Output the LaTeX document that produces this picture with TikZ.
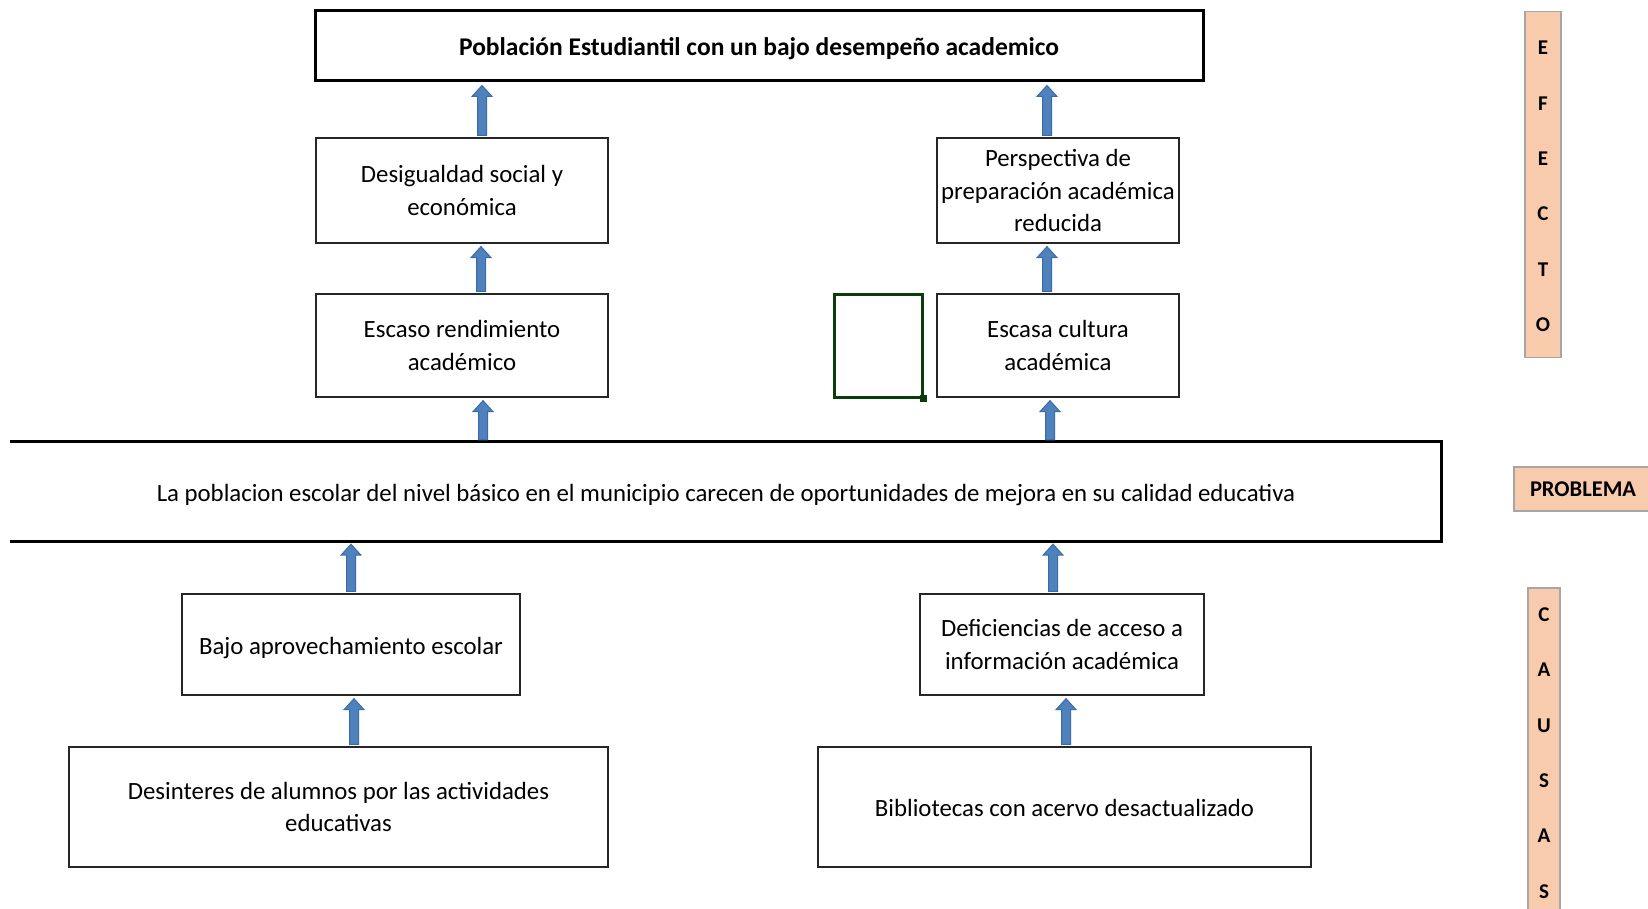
\documentclass[tikz,border=0pt]{standalone}
\usepackage{fontspec}
\setmainfont{Carlito}
\usetikzlibrary{calc}
\definecolor{arrfill}{HTML}{4F81BD}
\definecolor{arrdraw}{HTML}{3A6BA5}
\definecolor{peach}{HTML}{F8CBAD}
\definecolor{stripline}{HTML}{A6A6A6}
\definecolor{selgreen}{HTML}{0B3D0B}
\newcommand\barrow[3]{%
  \path[blockarrow] let \p1=(#1), \p2=(#2), \p3=(#3) in
    (\x1-4.5pt,\y2+2pt) -- (\x1-4.5pt,\y3-14pt) -- (\x1-10pt,\y3-14pt) --
    (\x1,\y3-3pt) -- (\x1+10pt,\y3-14pt) -- (\x1+4.5pt,\y3-14pt) --
    (\x1+4.5pt,\y2+2pt) -- cycle;}
\newcommand\mltext[1]{\raisebox{-1.2pt}[\height][\depth]{\begin{tabular}{@{}c@{}}#1\end{tabular}}}
\begin{document}
\begin{tikzpicture}[x=1pt,y=-1pt,
  struts/.style={execute at begin node={\rule{0pt}{1.03em}},
    execute at end node={\rule[-0.25em]{0pt}{0pt}}},
  box/.style={draw=black!85, line width=1.3pt, align=center, inner sep=0pt,
    font=\fontsize{24.8}{32.5}\selectfont},
  blockarrow/.style={fill=arrfill, draw=arrdraw, line width=1pt},
  strip/.style={fill=peach, draw=stripline, line width=1.2pt, inner sep=0pt},
  letters/.style={align=center, inner sep=0pt, font=\fontsize{21}{55.4}\selectfont\bfseries}]
\useasboundingbox (0,0) rectangle (1648,909);

% effect boxes
\node[box, struts, line width=3pt, draw=black, minimum width=888pt, minimum height=70pt,
  font=\fontsize{25.5}{30}\selectfont\bfseries] (top) at (759,46)
  {Población Estudiantil con un bajo desempeño academico};
\node[box, minimum width=292pt, minimum height=105pt] (des) at (462,190.5)
  {Desigualdad social y\\económica};
\node[box, minimum width=242pt, minimum height=105pt] (per) at (1058,190.5)
  {Perspectiva de\\preparación académica\\reducida};
\node[box, minimum width=292pt, minimum height=103pt] (esc) at (462,345.5)
  {Escaso rendimiento\\académico};
\node[box, minimum width=242pt, minimum height=103pt] (cul) at (1058,345.5)
  {Escasa cultura\\académica};
\node[draw=selgreen, line width=3pt, minimum width=88pt, minimum height=103pt, inner sep=0pt]
  (sel) at (878,345.5) {};
\fill[selgreen] ($(sel.south east)+(-3.5,-3.5)$) rectangle ($(sel.south east)+(3.5,3.5)$);

% problem
\node[minimum width=1431pt, minimum height=99pt, inner sep=0pt,
  font=\fontsize{24.8}{32.5}\selectfont, struts] (prob) at (726,491.5)
  {La poblacion escolar del nivel básico en el municipio carecen de oportunidades de mejora en su calidad educativa};
\draw[line width=3pt] (prob.north west) -- (prob.north east) -- (prob.south east) -- (prob.south west);

% causes
\node[box, struts, minimum width=338pt, minimum height=101pt] (bajo) at (351,644.5)
  {Bajo aprovechamiento escolar};
\node[box, minimum width=284pt, minimum height=101pt] (def) at (1062,644.5)
  {Deficiencias de acceso a\\información académica};
\node[box, minimum width=539pt, minimum height=120pt] (desi) at (338.5,807)
  {Desinteres de alumnos por las actividades\\educativas};
\node[box, struts, minimum width=493pt, minimum height=120pt] (bib) at (1064.5,807)
  {Bibliotecas con acervo desactualizado};

% arrow x positions
\coordinate (x1) at (482,0);
\coordinate (x2) at (1047,0);
\coordinate (x3) at (481,0);
\coordinate (x4) at (1047,0);
\coordinate (x5) at (483,0);
\coordinate (x6) at (1050,0);
\coordinate (x7) at (351,0);
\coordinate (x8) at (1053,0);
\coordinate (x9) at (354,0);
\coordinate (x10) at (1066,0);

\barrow{x1}{des.north}{top.south}
\barrow{x2}{per.north}{top.south}
\barrow{x3}{esc.north}{des.south}
\barrow{x4}{cul.north}{per.south}
\barrow{x5}{prob.north}{esc.south}
\barrow{x6}{prob.north}{cul.south}
\barrow{x7}{bajo.north}{prob.south}
\barrow{x8}{def.north}{prob.south}
\barrow{x9}{desi.north}{bajo.south}
\barrow{x10}{bib.north}{def.south}

% side labels
\node[strip, minimum width=36pt, minimum height=346pt] (efecto) at (1543,184.5) {};
\node[letters] (efectotxt) at (1543,186.5) {E\\F\\E\\C\\T\\O};
\node[strip, minimum width=140pt, minimum height=44pt] (problema) at (1584,489) {};
\node[inner sep=0pt, font=\fontsize{22.5}{26}\selectfont\bfseries] (problematxt) at (1583,489) {PROBLEMA};
\node[strip, minimum width=32pt, minimum height=340pt] (causas) at (1544,758) {};
\node[letters] (causastxt) at (1544,753) {C\\A\\U\\S\\A\\S};
\end{tikzpicture}
\end{document}
